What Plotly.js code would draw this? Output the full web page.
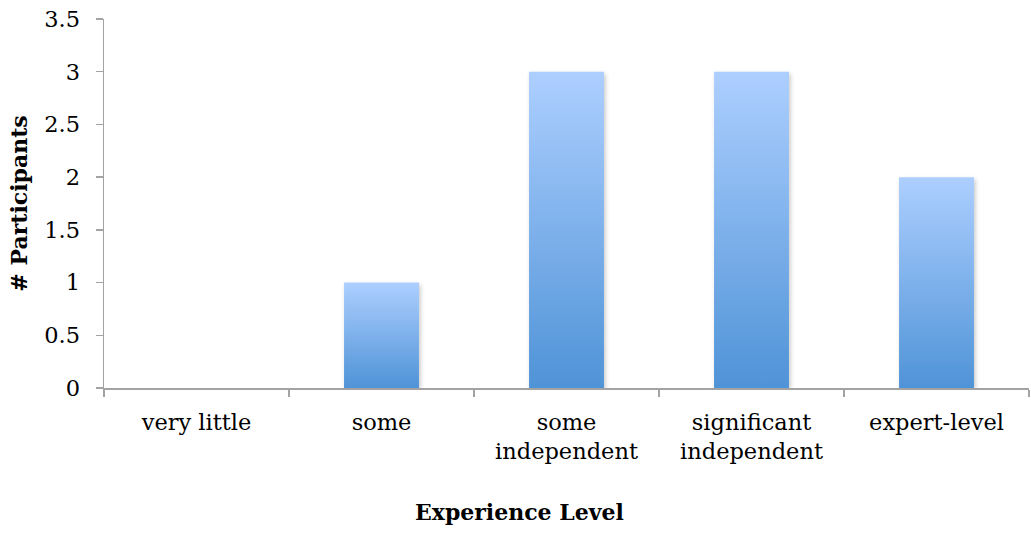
<!DOCTYPE html>
<html>
<head>
<meta charset="utf-8">
<script src="https://cdn.plot.ly/plotly-3.0.1.min.js"></script>
<style>
  html, body { margin: 0; padding: 0; background: #fff; }
  #chart { width: 1031px; height: 536px; }
</style>
</head>
<body>
<div id="chart"></div>
<script>
// Survey responses: participants per experience level
const categories = ["very little", "some", "some<br>independent", "significant<br>independent", "expert-level"];
const participants = [0, 1, 3, 3, 2];
const yTickValues = [0, 0.5, 1, 1.5, 2, 2.5, 3, 3.5];
const yTickLabels = ["0", "0.5", "1", "1.5", "2", "2.5", "3", "3.5"];

const FONT = "DejaVu Serif, Liberation Serif, serif";
const AXIS_GREY = "#a3a3a3";

const trace = {
  type: "bar",
  x: categories,
  y: participants,
  marker: { color: "#7fb1ec", line: { width: 0 } },
  hoverinfo: "x+y"
};

const layout = {
  width: 1031,
  height: 536,
  margin: { l: 104, r: 2, t: 19, b: 148 },
  paper_bgcolor: "#ffffff",
  plot_bgcolor: "#ffffff",
  bargap: 0.595,
  showlegend: false,
  font: { family: FONT, color: "#000000", size: 22 },
  xaxis: {
    type: "category",
    showline: true,
    linecolor: AXIS_GREY,
    linewidth: 1.5,
    showgrid: false,
    zeroline: false,
    ticks: "outside",
    tickson: "boundaries",
    ticklen: 7,
    tickwidth: 1.5,
    tickcolor: AXIS_GREY,
    ticklabelstandoff: 13,
    tickfont: { family: FONT, size: 22.5, color: "#000" }
  },
  yaxis: {
    range: [0, 3.5],
    tickvals: yTickValues,
    ticktext: yTickLabels,
    showline: true,
    linecolor: AXIS_GREY,
    linewidth: 1.5,
    showgrid: false,
    zeroline: false,
    ticks: "outside",
    ticklen: 7,
    tickwidth: 1.5,
    tickcolor: AXIS_GREY,
    ticklabelstandoff: 11,
    tickfont: { family: FONT, size: 22.5, color: "#000" },
    title: {
      text: "<b># Participants</b>",
      font: { family: FONT, size: 22, color: "#000" },
      standoff: 10
    }
  },
  annotations: [{
    text: "<b>Experience Level</b>",
    xref: "paper", yref: "paper",
    x: 0.4497, y: -0.337,
    xanchor: "center", yanchor: "middle",
    showarrow: false,
    font: { family: FONT, size: 22, color: "#000" }
  }]
};

Plotly.newPlot("chart", [trace], layout, { displayModeBar: false, staticPlot: true }).then(function (gd) {
  // Vertical gradient fill and soft shadow for the bars
  const svgNS = "http://www.w3.org/2000/svg";
  const svg = gd.querySelector("svg.main-svg");
  let defs = svg.querySelector("defs");
  if (!defs) { defs = document.createElementNS(svgNS, "defs"); svg.insertBefore(defs, svg.firstChild); }

  const grad = document.createElementNS(svgNS, "linearGradient");
  grad.setAttribute("id", "barFill");
  grad.setAttribute("x1", "0"); grad.setAttribute("y1", "0");
  grad.setAttribute("x2", "0"); grad.setAttribute("y2", "1");
  [["0", "#adcfff"], ["1", "#4f93d7"]].forEach(function (s) {
    const stop = document.createElementNS(svgNS, "stop");
    stop.setAttribute("offset", s[0]);
    stop.setAttribute("stop-color", s[1]);
    grad.appendChild(stop);
  });
  defs.appendChild(grad);

  const filt = document.createElementNS(svgNS, "filter");
  filt.setAttribute("id", "barShadow");
  filt.setAttribute("x", "-20%"); filt.setAttribute("y", "-20%");
  filt.setAttribute("width", "140%"); filt.setAttribute("height", "140%");
  const ds = document.createElementNS(svgNS, "feDropShadow");
  ds.setAttribute("dx", "1.5"); ds.setAttribute("dy", "2");
  ds.setAttribute("stdDeviation", "2");
  ds.setAttribute("flood-color", "#000");
  ds.setAttribute("flood-opacity", "0.22");
  filt.appendChild(ds);
  defs.appendChild(filt);

  gd.querySelectorAll(".trace.bars .point path").forEach(function (p) {
    p.style.fill = "url(#barFill)";
    p.setAttribute("filter", "url(#barShadow)");
  });
});
</script>
</body>
</html>
